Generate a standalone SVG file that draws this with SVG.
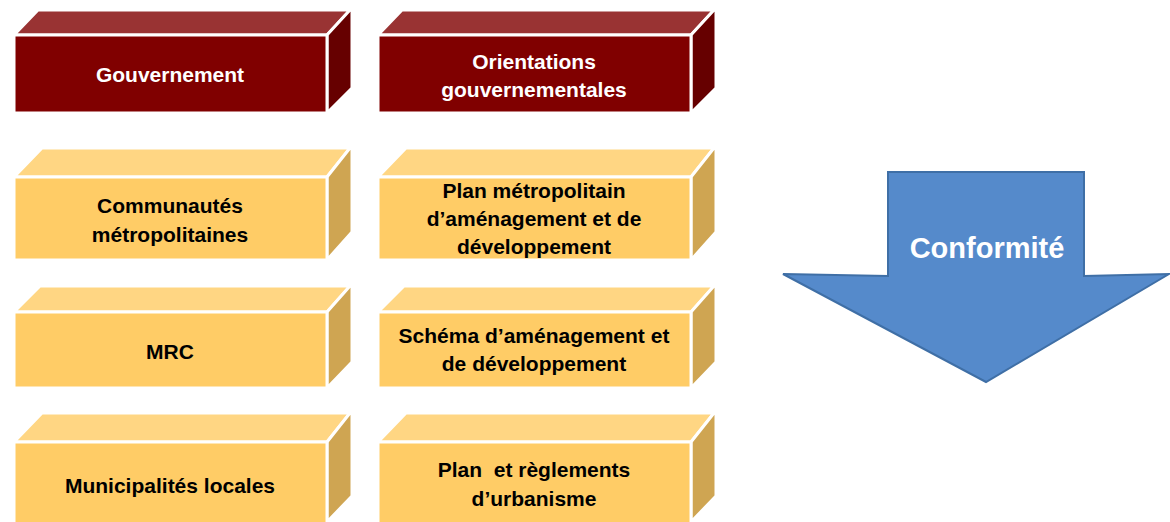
<svg xmlns="http://www.w3.org/2000/svg" width="1170" height="522" viewBox="0 0 1170 522">
<style>
.f{stroke:#fff;stroke-width:3;stroke-linejoin:miter}
.rf{fill:#800000}.rt{fill:#993333}.rs{fill:#660000}
.yf{fill:#FFCC66}.yt{fill:#FFD683}.ys{fill:#CFA552}
text{font-family:"Liberation Sans",Arial,sans-serif;font-weight:bold;font-size:21px;text-anchor:middle}
.w{fill:#fff}.k{fill:#000}
</style>
<rect width="1170" height="522" fill="#fff"/>
<g id="gouvernement">
<polygon class="f rt" points="14,35 38,10 350,10 327,35"/>
<polygon class="f rs" points="327,35 350,10 352,10 352,88 327,113"/>
<rect class="f rf" x="14" y="35" width="313" height="78"/>
<text class="w" x="170" y="82">Gouvernement</text>
</g>
<g id="orientations">
<polygon class="f rt" points="378,35 402,10 714,10 691,35"/>
<polygon class="f rs" points="691,35 714,10 716,10 716,88 691,113"/>
<rect class="f rf" x="378" y="35" width="313" height="78"/>
<text class="w" x="534" y="69">Orientations</text>
<text class="w" x="534" y="97">gouvernementales</text>
</g>
<g id="communautes">
<polygon class="f yt" points="14,177 42,148 350,148 327,177"/>
<polygon class="f ys" points="327,177 350,148 352,148 352,232 327,260"/>
<rect class="f yf" x="14" y="177" width="313" height="83"/>
<text class="k" x="170" y="213">Communautés</text>
<text class="k" x="170" y="242">métropolitaines</text>
</g>
<g id="plan-metropolitain">
<polygon class="f yt" points="378,177 406,148 714,148 691,177"/>
<polygon class="f ys" points="691,177 714,148 716,148 716,232 691,260"/>
<rect class="f yf" x="378" y="177" width="313" height="83"/>
<text class="k" x="534" y="198">Plan métropolitain</text>
<text class="k" x="534" y="226">d’aménagement et de</text>
<text class="k" x="534" y="254">développement</text>
</g>
<g id="mrc">
<polygon class="f yt" points="14,312 40,286 350,286 327,312"/>
<polygon class="f ys" points="327,312 350,286 352,286 352,362 327,388"/>
<rect class="f yf" x="14" y="312" width="313" height="76"/>
<text class="k" x="170" y="359">MRC</text>
</g>
<g id="schema">
<polygon class="f yt" points="378,312 404,286 714,286 691,312"/>
<polygon class="f ys" points="691,312 714,286 716,286 716,362 691,388"/>
<rect class="f yf" x="378" y="312" width="313" height="76"/>
<text class="k" x="534" y="343">Schéma d’aménagement et</text>
<text class="k" x="534" y="371">de développement</text>
</g>
<g id="municipalites">
<polygon class="f yt" points="14,442 42,413 350,413 327,442"/>
<polygon class="f ys" points="327,442 350,413 352,413 352,496 327,522"/>
<rect class="f yf" x="14" y="442" width="313" height="82"/>
<text class="k" x="170" y="493">Municipalités locales</text>
</g>
<g id="plan-reglements">
<polygon class="f yt" points="378,442 406,413 714,413 691,442"/>
<polygon class="f ys" points="691,442 714,413 716,413 716,496 691,522"/>
<rect class="f yf" x="378" y="442" width="313" height="82"/>
<text class="k" x="534" y="477" xml:space="preserve">Plan  et règlements</text>
<text class="k" x="534" y="506">d’urbanisme</text>
</g>
<g id="connectors">
<g id="conformite">
<polygon points="888,172 1084,172 1084,276 1169,274 986,382 783,274 888,276" fill="#558ACB" stroke="#3F6FA6" stroke-width="2" stroke-linejoin="miter"/>
<text class="w" x="987" y="258" style="font-size:29px">Conformité</text>
</g>
</g>
</svg>
